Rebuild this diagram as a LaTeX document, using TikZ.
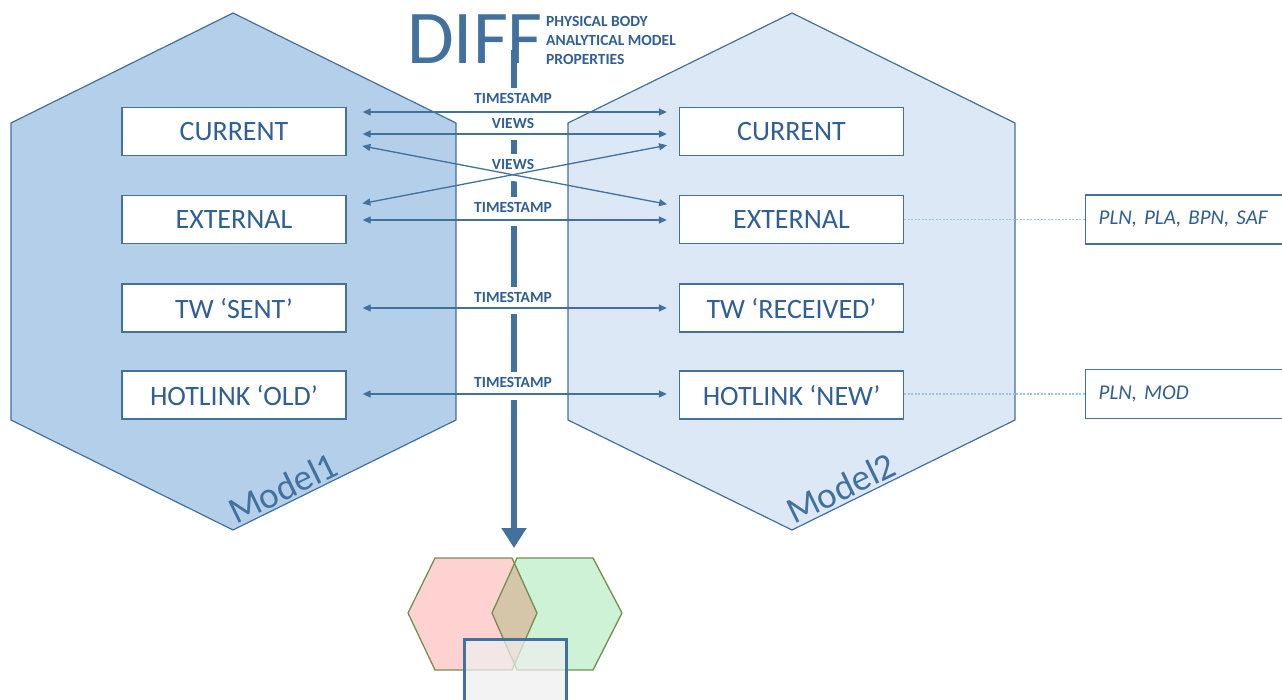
\documentclass[tikz,border=0pt]{standalone}
\usepackage{fontspec}
\setmainfont{Carlito}
\frenchspacing
\usetikzlibrary{arrows.meta,calc}
\definecolor{edge}{HTML}{41719C}
\definecolor{ink}{HTML}{2F5F96}
\definecolor{hexA}{HTML}{B3CFEA}
\definecolor{hexB}{HTML}{DCE8F5}
\definecolor{dotblue}{HTML}{9DC3E6}
\definecolor{pinkf}{HTML}{FFD2D2}
\definecolor{greenf}{HTML}{CDF2D5}
\definecolor{overlapf}{HTML}{D5C6A9}
\definecolor{olive}{HTML}{728F4E}
\definecolor{greyf}{HTML}{EEEEEE}
\begin{document}
\begin{tikzpicture}[x=1pt,y=-1pt,
  hexline/.style={draw=edge,line width=1.2pt,line join=miter},
  box/.style={draw=edge,line width=1.3pt,fill=white,minimum width=224pt,minimum height=48pt,inner sep=0pt,font=\fontsize{28}{32}\selectfont,text=ink},
  sidebox/.style={draw=edge,line width=1.3pt,fill=white,minimum width=205pt,minimum height=49pt,inner xsep=13pt,inner ysep=0pt,text width=179pt,align=left,anchor=west,font=\itshape\fontsize{21}{24}\selectfont,text=ink},
  lbl/.style={fill=white,inner xsep=2pt,inner ysep=4.5pt,font=\bfseries\fontsize{15.5}{17}\selectfont,text=ink},
  link/.style={draw=edge,line width=1.3pt,{Triangle[length=8pt,width=7pt]}-{Triangle[length=8pt,width=7pt]},shorten <=16pt,shorten >=12pt},
  halo/.style={draw=white,line width=12pt,shorten <=16pt,shorten >=12pt},
  modellbl/.style={rotate=26,font=\fontsize{37}{40}\selectfont,text=edge,inner sep=0pt},
  dotlink/.style={draw=dotblue,line width=1.4pt,dash pattern=on 2pt off 1.5pt},
  vennline/.style={draw=olive,line width=1.3pt}
]
\useasboundingbox (0,0) rectangle (1282,700);

% hexagons
\filldraw[hexline,fill=hexA] (233,13) -- (456,123) -- (456,420) -- (233,530) -- (11,420) -- (11,123) -- cycle;
\filldraw[hexline,fill=hexB] (792,13) -- (1015,123) -- (1015,420) -- (792,530) -- (568,420) -- (568,123) -- cycle;

% boxes
\node[box] (L1) at (234,131.5) {CURRENT};
\node[box] (L2) at (234,219.5) {EXTERNAL};
\node[box] (L3) at (234,308) {TW ‘SENT’};
\node[box] (L4) at (234,395) {HOTLINK ‘OLD’};
\node[box] (R1) at (791.5,131.5) {CURRENT};
\node[box] (R2) at (791.5,219.5) {EXTERNAL};
\node[box] (R3) at (791.5,308) {TW ‘RECEIVED’};
\node[box] (R4) at (791.5,395) {HOTLINK ‘NEW’};

\node[modellbl] (m1) at (283,488) {Model1};
\node[modellbl] (m2) at (841,488) {Model2};

% side boxes
\node[sidebox] (P1) at (1085,219.5) {PLN, PLA, BPN, SAF};
\node[sidebox] (P2) at (1085,394) {PLN, MOD};
\draw[dotlink] (R2.east) -- (P1.west);
\draw[dotlink] ([yshift=1pt]R4.east) -- (P2.west);

% DIFF title
\node[anchor=base west,inner sep=0pt,font=\fontsize{76}{76}\selectfont,text=edge] (diff) at (407,64) {DIFF};
\node[anchor=north west,align=left,inner sep=0pt,font=\bfseries\fontsize{15.5}{19}\selectfont,text=ink] (props) at (546,16) {PHYSICAL BODY\\ANALYTICAL MODEL\\PROPERTIES};

% vertical arrow
\coordinate (vtop) at (514,50);
\coordinate (vtip) at (514,548);
\draw[edge,line width=5.5pt,-{Triangle[length=20pt,width=24pt]}] (vtop) -- (vtip);

% halos cutting the vertical line
\begin{scope}
\clip (503,70) rectangle (525,540);
\draw[halo] ([yshift=19.5pt]L1.east) -- ([yshift=19.5pt]R1.west);
\draw[halo] ([yshift=-2.5pt]L1.east) -- ([yshift=-2.5pt]R1.west);
\draw[halo] ([yshift=-11.5pt]L1.east) -- ([yshift=13pt]R2.west);
\draw[halo] ([yshift=13pt]L2.east) -- ([yshift=-11.5pt]R1.west);
\draw[halo] ([yshift=-0.5pt]L2.east) -- ([yshift=-0.5pt]R2.west);
\draw[halo] (L3.east) -- (R3.west);
\draw[halo] ([yshift=1pt]L4.east) -- ([yshift=1pt]R4.west);
\end{scope}

% labels
\node[lbl] (t1) at (513,98) {TIMESTAMP};
\node[lbl] (v1) at (513,123.5) {VIEWS};
\node[lbl] (v2) at (513,164) {VIEWS};
\node[lbl] (t2) at (513,207) {TIMESTAMP};
\node[lbl] (t3) at (513,297) {TIMESTAMP};
\node[lbl] (t4) at (513,382) {TIMESTAMP};

% links
\draw[link] ([yshift=19.5pt]L1.east) -- ([yshift=19.5pt]R1.west);
\draw[link] ([yshift=-2.5pt]L1.east) -- ([yshift=-2.5pt]R1.west);
\draw[link] ([yshift=-11.5pt]L1.east) -- ([yshift=13pt]R2.west);
\draw[link] ([yshift=13pt]L2.east) -- ([yshift=-11.5pt]R1.west);
\draw[link] ([yshift=-0.5pt]L2.east) -- ([yshift=-0.5pt]R2.west);
\draw[link] (L3.east) -- (R3.west);
\draw[link] ([yshift=1pt]L4.east) -- ([yshift=1pt]R4.west);

% venn
\def\pinkhex{(435,558) -- (512,558) -- (537,613) -- (512,670) -- (435,670) -- (408,613) -- cycle}
\def\greenhex{(517,558) -- (593,558) -- (622,613) -- (593,670) -- (517,670) -- (492,613) -- cycle}
\fill[pinkf] \pinkhex;
\fill[greenf] \greenhex;
\begin{scope}
\clip \pinkhex;
\fill[overlapf] \greenhex;
\end{scope}
\draw[vennline] \pinkhex;
\draw[vennline] \greenhex;
\draw[draw=edge,line width=3pt,fill=greyf,fill opacity=0.72] (464.5,639.5) rectangle (566.5,720);
\end{tikzpicture}
\end{document}
